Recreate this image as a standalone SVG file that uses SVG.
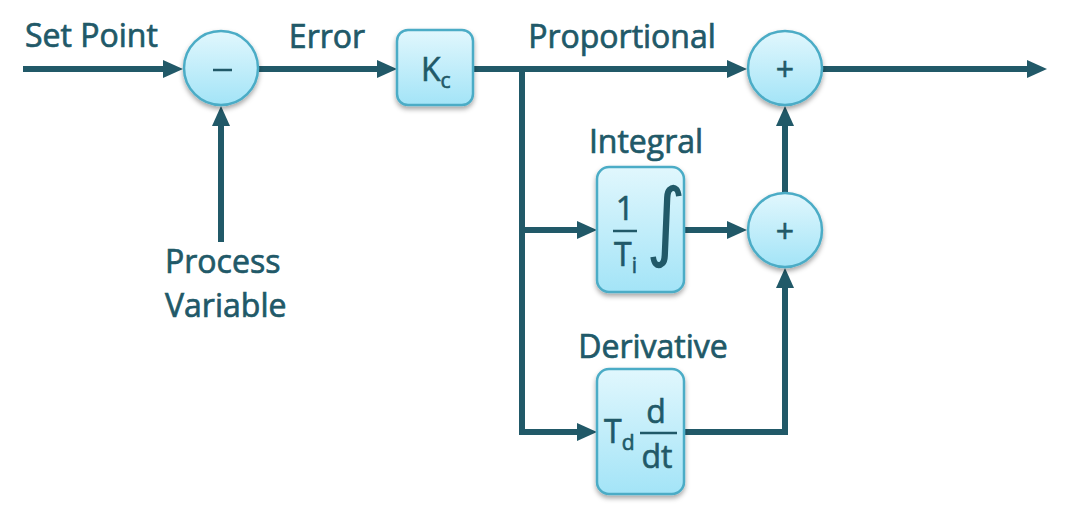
<svg xmlns="http://www.w3.org/2000/svg" width="1066" height="506" viewBox="0 0 1066 506">
<defs>
  <linearGradient id="fillG" x1="0" y1="0" x2="0" y2="1">
    <stop offset="0" stop-color="#e1f7fd"/>
    <stop offset="1" stop-color="#a3e4f7"/>
  </linearGradient>
  <filter id="shadow" x="-20%" y="-20%" width="140%" height="150%">
    <feDropShadow dx="0" dy="3" stdDeviation="2.5" flood-color="#000" flood-opacity="0.35"/>
  </filter>
  <marker id="arrow" markerUnits="userSpaceOnUse" markerWidth="20" markerHeight="18" refX="9" refY="9" orient="auto">
    <path d="M0,0 L20,9 L0,18 Z" fill="#215968"/>
  </marker>
  <style>
    .shape { fill: url(#fillG); stroke: #4bacc6; stroke-width: 2.5; filter: url(#shadow); }
    .lbl { font-family: "Open Sans", "DejaVu Sans", sans-serif; font-size: 32px; fill: #215968; stroke: #215968; stroke-width: 0.7; }
    .sym { font-family: "Open Sans", "DejaVu Sans", sans-serif; fill: #215968; stroke: #215968; stroke-width: 0.6; }
    .sub { font-size: 21px; }
    .wire { fill: none; stroke: #215968; stroke-width: 6; }
    .arr { marker-end: url(#arrow); }
  </style>
</defs>
<rect width="1066" height="506" fill="#ffffff"/>

<g id="connectors">
  <path class="wire arr" d="M23,69 H172"/>
  <path class="wire arr" d="M221,242 V117"/>
  <path class="wire arr" d="M259,69 H386"/>
  <path class="wire arr" d="M473,69 H736"/>
  <path class="wire" d="M522,69 V432"/>
  <path class="wire arr" d="M519,230 H586"/>
  <path class="wire arr" d="M519,432 H586"/>
  <path class="wire arr" d="M684,230 H736"/>
  <path class="wire arr" d="M684,432 H785 V279"/>
  <path class="wire arr" d="M785,192 V117"/>
  <path class="wire arr" d="M823,69 H1036"/>
</g>

<g id="sum-error">
  <circle class="shape" cx="221" cy="68" r="37"/>
  <line x1="213" y1="70" x2="232" y2="70" stroke="#215968" stroke-width="2.5"/>
</g>

<g id="gain-kc">
  <rect class="shape" x="397" y="30" width="76" height="75" rx="11"/>
  <text class="sym" x="421" y="81" font-size="32">K<tspan class="sub" dy="7">c</tspan></text>
</g>

<g id="sum-output">
  <circle class="shape" cx="785" cy="68" r="37"/>
  <text class="sym" x="785" y="81" font-size="32" stroke-width="0" text-anchor="middle">+</text>
</g>

<g id="sum-id">
  <circle class="shape" cx="785" cy="230" r="37"/>
  <text class="sym" x="785" y="243" font-size="32" stroke-width="0" text-anchor="middle">+</text>
</g>

<g id="integral">
  <rect class="shape" x="597" y="167" width="87" height="125" rx="12"/>
  <text class="sym" x="625" y="220" font-size="32" text-anchor="middle">1</text>
  <line x1="613" y1="231" x2="637" y2="231" stroke="#215968" stroke-width="2.5"/>
  <text class="sym" x="614" y="266" font-size="32">T<tspan class="sub" dy="7" font-size="23">i</tspan></text>
  <text x="0" y="0" font-family="'DejaVu Sans', sans-serif" font-size="64" fill="#215968" transform="translate(646,250) scale(1.2,1.35)">∫</text>
</g>

<g id="derivative">
  <rect class="shape" x="597" y="369" width="87" height="125" rx="12"/>
  <text class="sym" x="604" y="443" font-size="32">T<tspan class="sub" dy="7">d</tspan></text>
  <text class="sym" x="656" y="423" font-size="32" text-anchor="middle">d</text>
  <line x1="640" y1="433" x2="677" y2="433" stroke="#215968" stroke-width="2.5"/>
  <text class="sym" x="657" y="468" font-size="32" text-anchor="middle">dt</text>
</g>

<g id="labels">
  <text class="lbl" x="25" y="47">Set Point</text>
  <text class="lbl" x="327" y="48" text-anchor="middle">Error</text>
  <text class="lbl" x="622" y="48" text-anchor="middle">Proportional</text>
  <text class="lbl" x="646" y="153" text-anchor="middle">Integral</text>
  <text class="lbl" x="653" y="358" text-anchor="middle">Derivative</text>
  <text class="lbl" x="165" y="273">Process</text>
  <text class="lbl" x="165" y="317">Variable</text>
</g>
</svg>
